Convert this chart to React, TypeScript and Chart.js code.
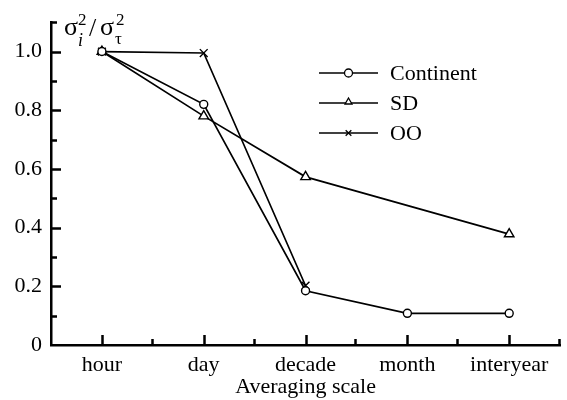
import React, { useEffect, useRef } from 'react';
import { Chart, registerables } from 'chart.js';

Chart.register(...registerables);

const categories = ['hour', 'day', 'decade', 'month', 'interyear'];
const seriesNames = ['Continent', 'SD', 'OO'];
const continentValues = [1.0, 0.82, 0.185, 0.108, 0.108];
const sdValues = [1.0, 0.78, 0.573, null, 0.378];
const ooValues = [1.0, 0.995, 0.202, null, null];
const yMajorTicks = [0, 0.2, 0.4, 0.6, 0.8, 1.0];
const yTickLabels = ['0', '0.2', '0.4', '0.6', '0.8', '1.0'];
const xAxisTitle = 'Averaging scale';

const FONT = '"Liberation Serif", "DejaVu Serif", serif';

function drawMarker(ctx: CanvasRenderingContext2D, style: string, x: number, y: number, r: number) {
  ctx.save();
  ctx.strokeStyle = '#000';
  ctx.fillStyle = '#fff';
  ctx.lineWidth = 1.3;
  ctx.beginPath();
  if (style === 'circle') {
    ctx.arc(x, y, r, 0, Math.PI * 2);
    ctx.fill();
    ctx.stroke();
  } else if (style === 'triangle') {
    ctx.moveTo(x, y - r);
    ctx.lineTo(x + 0.866 * r, y + 0.5 * r);
    ctx.lineTo(x - 0.866 * r, y + 0.5 * r);
    ctx.closePath();
    ctx.fill();
    ctx.stroke();
  } else {
    const d = r * 0.707;
    ctx.moveTo(x - d, y - d);
    ctx.lineTo(x + d, y + d);
    ctx.moveTo(x + d, y - d);
    ctx.lineTo(x - d, y + d);
    ctx.stroke();
  }
  ctx.restore();
}

const decorPlugin = {
  id: 'decor',
  afterDraw(chart: any) {
    const ctx: CanvasRenderingContext2D = chart.ctx;
    const xs = chart.scales.x;
    const ys = chart.scales.y;
    const area = chart.chartArea;
    ctx.save();
    ctx.strokeStyle = '#000';
    ctx.lineWidth = 2.5;
    ctx.beginPath();
    // y ticks (inward)
    for (let i = 1; i <= 11; i++) {
      const v = i / 10;
      const py = Math.round(ys.getPixelForValue(v)) + 0.5;
      const major = i % 2 === 0 && i <= 10;
      ctx.moveTo(area.left, py);
      ctx.lineTo(area.left + (major ? 10 : 6), py);
    }
    // x ticks (inward)
    for (let i = 0; i < categories.length; i++) {
      const px = Math.round(xs.getPixelForValue(i)) + 0.5;
      ctx.moveTo(px, area.bottom);
      ctx.lineTo(px, area.bottom - 10);
      const next = i + 1 < categories.length ? xs.getPixelForValue(i + 1) : area.right * 2 - xs.getPixelForValue(i);
      const mid = Math.round((xs.getPixelForValue(i) + next) / 2) - 0.5;
      ctx.moveTo(mid, area.bottom);
      ctx.lineTo(mid, area.bottom - 6);
    }
    ctx.stroke();

    // y-axis title: sigma_i^2 / sigma_tau^2
    ctx.fillStyle = '#000';
    ctx.textBaseline = 'alphabetic';
    ctx.textAlign = 'left';
    const bx = area.left + 13;
    const by = area.top + 13;
    ctx.font = `26px ${FONT}`;
    ctx.fillText('σ', bx, by);
    ctx.font = `17px ${FONT}`;
    ctx.fillText('2', bx + 14, by - 10);
    ctx.font = `italic 18px ${FONT}`;
    ctx.fillText('i', bx + 14, by + 11);
    ctx.font = `26px ${FONT}`;
    ctx.fillText('/', bx + 25, by + 1);
    ctx.fillText('σ', bx + 36, by);
    ctx.font = `17px ${FONT}`;
    ctx.fillText('2', bx + 52, by - 10);
    ctx.fillText('τ', bx + 51, by + 9);

    // legend
    const styles = ['circle', 'triangle', 'crossRot'];
    const rows = [73, 103, 133];
    const lx0 = 319;
    const lx1 = 378;
    for (let i = 0; i < seriesNames.length; i++) {
      const y = rows[i];
      ctx.lineWidth = 1.6;
      ctx.beginPath();
      ctx.moveTo(lx0, y);
      ctx.lineTo(lx1, y);
      ctx.stroke();
      drawMarker(ctx, styles[i], (lx0 + lx1) / 2, i === 1 ? y - 1 : y, 4);
      ctx.font = `22px ${FONT}`;
      ctx.textBaseline = 'middle';
      ctx.fillText(seriesNames[i], 390, y + 1);
    }
    ctx.restore();
  },
};

export default function App() {
  const ref = useRef<HTMLCanvasElement | null>(null);
  useEffect(() => {
    document.body.style.margin = '0';
    const canvas = ref.current!;
    const mk = (label: string, data: (number | null)[], style: string, r: number) => ({
      label,
      data,
      borderColor: '#000',
      backgroundColor: '#fff',
      borderWidth: 1.7,
      pointStyle: style,
      pointRadius: r,
      pointBorderWidth: 1.4,
      pointBackgroundColor: '#fff',
      pointBorderColor: '#000',
      spanGaps: true,
      tension: 0,
    });
    const chart = new Chart(canvas, {
      type: 'line',
      data: {
        labels: categories,
        datasets: [
          mk(seriesNames[0], continentValues, 'circle', 4),
          mk(seriesNames[1], sdValues, 'triangle', 5.5),
          mk(seriesNames[2], ooValues, 'crossRot', 5.5),
        ],
      },
      options: {
        responsive: false,
        animation: false,
        layout: { padding: { top: 19, right: 2, left: 0, bottom: 0 } },
        plugins: { legend: { display: false }, tooltip: { enabled: false } },
        scales: {
          x: {
            type: 'category',
            offset: true,
            grid: { display: false, drawTicks: false },
            border: { display: true, color: '#000', width: 2.5 },
            ticks: { color: '#000', font: { family: FONT, size: 22 }, padding: 7, maxRotation: 0, autoSkip: false },
            title: { display: true, text: xAxisTitle, color: '#000', font: { family: FONT, size: 22 }, padding: { top: 0, bottom: 0 } },
            afterFit: (s: any) => { s.height = 55; },
          },
          y: {
            type: 'linear',
            min: 0,
            max: 1.1,
            grid: { display: false, drawTicks: false },
            border: { display: true, color: '#000', width: 2.5 },
            afterBuildTicks: (s: any) => { s.ticks = yMajorTicks.map((v) => ({ value: v })); },
            ticks: {
              color: '#000',
              font: { family: FONT, size: 22 },
              padding: 9,
              callback: (v: any) => {
                const idx = yMajorTicks.findIndex((t) => Math.abs(t - Number(v)) < 1e-6);
                return idx >= 0 ? yTickLabels[idx] : '';
              },
            },
            afterFit: (s: any) => { s.width = 51; },
          },
        },
      },
      plugins: [decorPlugin],
    });
    return () => chart.destroy();
  }, []);
  return (
    <div style={{ position: 'absolute', left: 0, top: 0, width: 567, height: 400, background: '#fff' }}>
      <canvas ref={ref} width={567} height={400} />
    </div>
  );
}
